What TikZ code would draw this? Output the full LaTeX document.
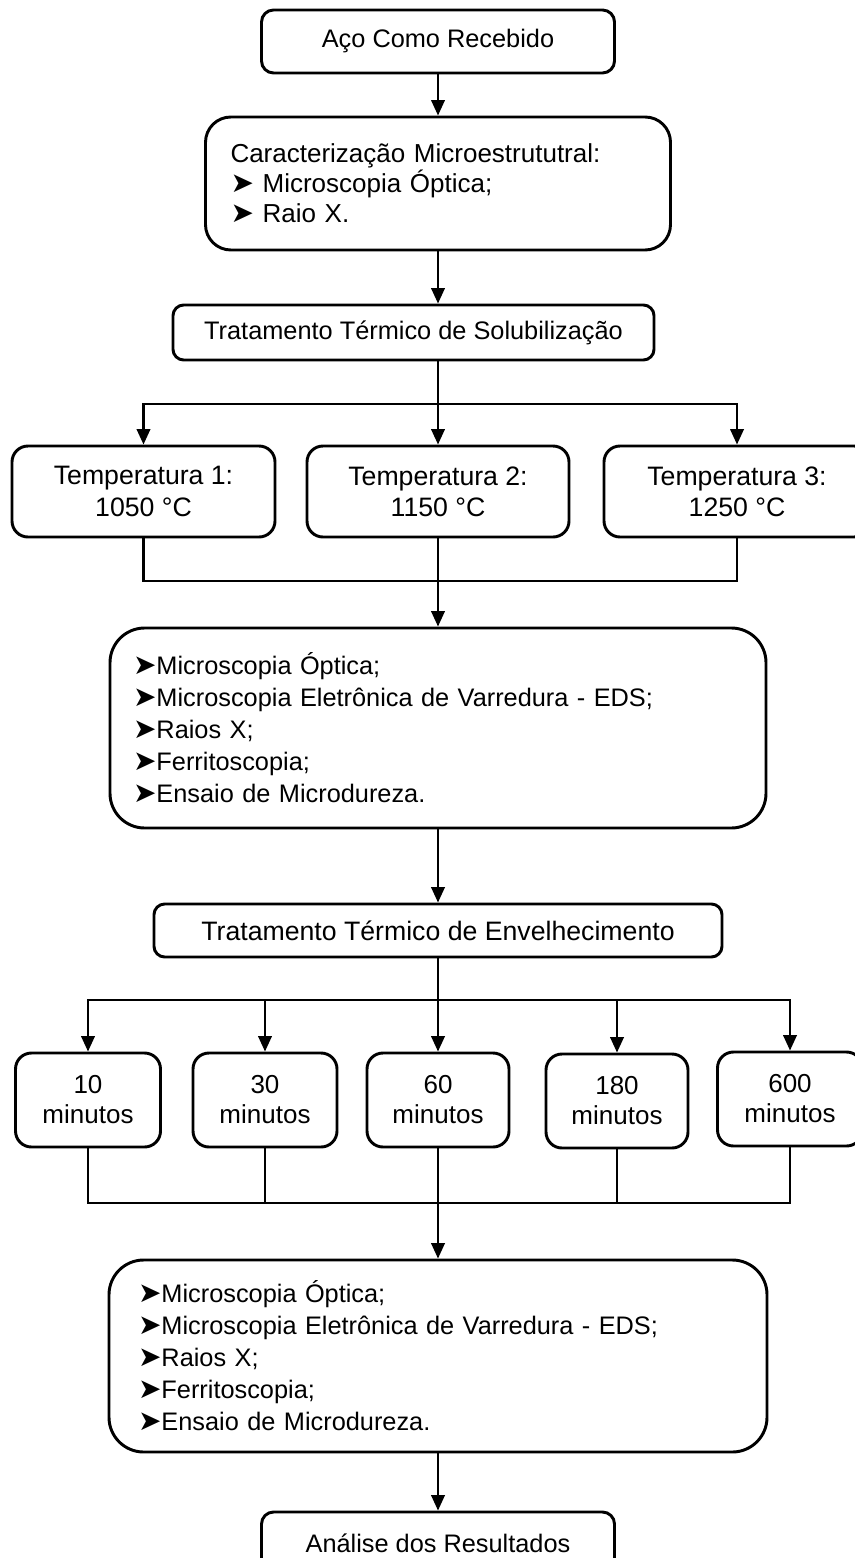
\documentclass[tikz,border=0pt]{standalone}
\usepackage{fontspec}
\setmainfont{Liberation Sans}
\newfontfamily\dejavu{DejaVu Sans}
\usetikzlibrary{arrows.meta}
\newcommand{\blt}{{\dejavu\fontsize{21pt}{16pt}\selectfont ➤}}
\begin{document}
\begin{tikzpicture}[x=0.75pt,y=-0.75pt,
  bx/.style={draw, line width=2.2pt, inner sep=0pt, align=center,
    font=\fontsize{19pt}{23.5pt}\selectfont},
  lst/.style={bx, align=left, font=\fontsize{19pt}{24pt}\selectfont},
  tbox/.style={bx, rounded corners=12pt, minimum height=68.25pt, font=\fontsize{20pt}{23.5pt}\selectfont},
  mbox/.style={bx, rounded corners=12pt, minimum height=70.5pt, font=\fontsize{19.5pt}{22.5pt}\selectfont},
  conn/.style={line width=1.8pt},
  arr/.style={conn, -{Triangle[length=11.5pt,width=10pt]}}]
\useasboundingbox (0,0) rectangle (854,1558);
% main spine boxes
\node[bx, rounded corners=9pt, minimum width=264.75pt, minimum height=47.25pt] (n1) at (438,41.5) {Aço Como Recebido};
\node[bx, align=left, rounded corners=19pt, text width=311.25pt, inner xsep=18.75pt, minimum height=99.75pt, font=\fontsize{19.5pt}{22.5pt}\selectfont] (n2) at (438,183.5)
  {Caracterização Microestrututral:\\ \blt\ Microscopia Óptica;\\ \blt\ Raio X.};
\node[bx, rounded corners=8pt, minimum width=360.75pt, minimum height=41.25pt] (n3) at (413.5,332.5) {Tratamento Térmico de Solubilização};
% temperatures
\node[tbox, minimum width=197.25pt] (t1) at (143.5,491.5) {Temperatura 1:\\1050 °C};
\node[tbox, minimum width=196.5pt] (t2) at (438,491.5) {Temperatura 2:\\1150 °C};
\node[tbox, minimum width=199.5pt] (t3) at (737,491.5) {Temperatura 3:\\1250 °C};
% characterization 1
\node[lst, rounded corners=26pt, text width=457.5pt, inner xsep=17.25pt, minimum height=150pt] (n4) at (438,728)
  {\blt Microscopia Óptica;\\ \blt Microscopia Eletrônica de Varredura - EDS;\\ \blt Raios X;\\ \blt Ferritoscopia;\\ \blt Ensaio de Microdureza.};
\node[bx, rounded corners=8pt, minimum width=426pt, minimum height=39.75pt, font=\fontsize{20pt}{23.5pt}\selectfont] (n5) at (438,930.5) {Tratamento Térmico de Envelhecimento};
% times
\node[mbox, minimum width=108.75pt] (ma) at (88,1100) {10\\minutos};
\node[mbox, minimum width=108pt] (mb) at (265,1100) {30\\minutos};
\node[mbox, minimum width=106.5pt] (mc) at (438,1100) {60\\minutos};
\node[mbox, minimum width=106.5pt] (md) at (617,1101) {180\\minutos};
\node[mbox, minimum width=108.75pt] (me) at (790,1099) {600\\minutos};
% characterization 2
\node[lst, rounded corners=26pt, text width=450pt, inner xsep=21.75pt, minimum height=144pt] (n6) at (438,1356)
  {\blt Microscopia Óptica;\\ \blt Microscopia Eletrônica de Varredura - EDS;\\ \blt Raios X;\\ \blt Ferritoscopia;\\ \blt Ensaio de Microdureza.};
\node[bx, rounded corners=9pt, minimum width=264.75pt, minimum height=46.5pt] (n7) at (438,1543) {Análise dos Resultados};
% junction points
\coordinate (s1) at (438,404);
\coordinate (m1) at (438,581);
\coordinate (s2) at (438,1000);
\coordinate (m2) at (438,1203);
% connectors
\draw[arr] (n1) -- (n2);
\draw[arr] (n2) -- (n2.south |- n3.north);
\draw[conn] (n3.south -| s1) -- (s1);
\draw[arr] (s1) -| (t1.north);
\draw[arr] (s1) -- (t2.north);
\draw[arr] (s1) -| (t3.north);
\draw[conn] (t1.south) |- (m1);
\draw[conn] (t3.south) |- (m1);
\draw[conn] (t2.south) -- (m1);
\draw[arr] (m1) -- (n4.north);
\draw[arr] (n4) -- (n5);
\draw[conn] (n5) -- (s2);
\draw[arr] (s2) -| (ma.north);
\draw[arr] (s2) -| (mb.north);
\draw[arr] (s2) -- (mc.north);
\draw[arr] (s2) -| (md.north);
\draw[arr] (s2) -| (me.north);
\draw[conn] (ma.south) |- (m2);
\draw[conn] (mb.south) |- (m2);
\draw[conn] (mc.south) -- (m2);
\draw[conn] (md.south) |- (m2);
\draw[conn] (me.south) |- (m2);
\draw[arr] (m2) -- (n6.north);
\draw[arr] (n6) -- (n7);
\end{tikzpicture}
\end{document}
